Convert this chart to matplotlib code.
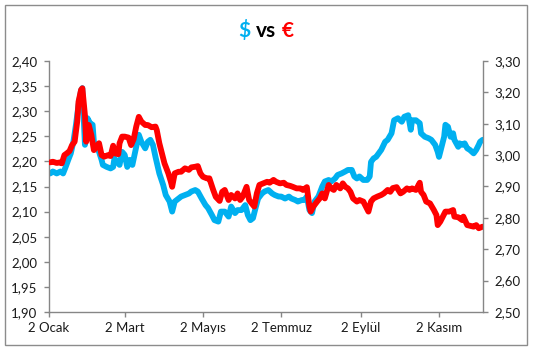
import matplotlib
matplotlib.use("Agg")
import matplotlib.pyplot as plt
import matplotlib.dates as mdates
from matplotlib.patches import Rectangle
import pandas as pd

plt.rcParams['font.family'] = ['Lato', 'DejaVu Sans']

start = pd.Timestamp('2014-01-02')

# days after 2 Jan 2014 and USD/TRY (left axis)
usd_days = [1, 3, 6, 9, 11, 13, 15, 17, 19, 21, 23, 25, 26, 28, 29, 30, 32, 34, 35, 37,
            39, 41, 42, 45, 48, 50, 51, 54, 55, 57, 59, 61, 63, 65, 68, 70, 72, 75, 77, 79,
            81, 83, 86, 89, 91, 94, 96, 98, 101, 103, 106, 109, 111, 114, 116, 119, 122, 124, 127, 129,
            132, 134, 137, 140, 142, 145, 147, 150, 153, 155, 157, 159, 161, 163, 166, 168, 171, 174, 176, 179,
            181, 184, 187, 189, 192, 194, 197, 199, 201, 203, 205, 207, 210, 213, 215, 218, 220, 223, 225, 228,
            231, 233, 236, 238, 240, 242, 245, 248, 250, 251, 253, 255, 257, 259, 262, 264, 267, 269, 272, 275,
            277, 280, 282, 283, 286, 289, 290, 293, 296, 298, 301, 303, 304, 306, 308, 309, 311, 313, 315, 316,
            319, 320, 322, 324, 326, 328, 331, 333, 335, 336, 338]
usd = [2.176, 2.180, 2.176, 2.180, 2.176, 2.189, 2.203, 2.216, 2.239, 2.273, 2.312, 2.342, 2.346, 2.233, 2.246, 2.286, 2.276, 2.273, 2.239, 2.229,
       2.219, 2.203, 2.193, 2.189, 2.186, 2.189, 2.206, 2.196, 2.193, 2.219, 2.213, 2.189, 2.203, 2.193, 2.229, 2.253, 2.239, 2.226, 2.239, 2.243,
       2.233, 2.209, 2.176, 2.153, 2.133, 2.120, 2.100, 2.120, 2.126, 2.130, 2.133, 2.136, 2.140, 2.143, 2.140, 2.126, 2.113, 2.107, 2.093, 2.083,
       2.080, 2.100, 2.100, 2.090, 2.110, 2.097, 2.103, 2.103, 2.113, 2.093, 2.083, 2.087, 2.107, 2.126, 2.136, 2.140, 2.143, 2.136, 2.133, 2.130,
       2.130, 2.126, 2.130, 2.126, 2.123, 2.120, 2.123, 2.123, 2.130, 2.103, 2.097, 2.120, 2.130, 2.150, 2.160, 2.163, 2.160, 2.166, 2.173, 2.176,
       2.180, 2.183, 2.183, 2.170, 2.166, 2.170, 2.163, 2.163, 2.170, 2.199, 2.206, 2.209, 2.216, 2.223, 2.239, 2.243, 2.256, 2.282, 2.286, 2.279,
       2.289, 2.292, 2.263, 2.282, 2.282, 2.276, 2.256, 2.249, 2.246, 2.243, 2.233, 2.219, 2.209, 2.229, 2.249, 2.273, 2.269, 2.249, 2.256, 2.243,
       2.229, 2.236, 2.233, 2.236, 2.226, 2.223, 2.216, 2.223, 2.233, 2.239, 2.243]

# days after 2 Jan 2014 and EUR/TRY (right axis)
eur_days = [1, 3, 6, 9, 10, 12, 14, 16, 18, 20, 22, 23, 25, 26, 28, 29, 30, 31, 33, 35,
            37, 39, 41, 43, 46, 48, 50, 51, 54, 55, 57, 59, 62, 64, 66, 68, 70, 72, 75, 77,
            80, 83, 84, 86, 88, 90, 93, 95, 96, 98, 101, 103, 106, 109, 111, 114, 116, 118, 120, 123,
            125, 128, 130, 133, 135, 137, 140, 142, 145, 147, 149, 151, 154, 156, 158, 160, 162, 164, 167, 170,
            172, 175, 177, 180, 183, 185, 188, 190, 193, 196, 198, 201, 203, 204, 206, 209, 211, 213, 215, 218,
            220, 222, 224, 227, 229, 231, 233, 235, 237, 240, 242, 245, 247, 249, 251, 253, 256, 259, 261, 264,
            266, 268, 271, 274, 276, 279, 281, 283, 286, 289, 290, 292, 294, 297, 300, 302, 303, 305, 307, 309,
            312, 315, 316, 319, 322, 323, 326, 329, 331, 333, 335, 338]
eur = [2.977, 2.979, 2.975, 2.977, 2.974, 3.000, 3.006, 3.013, 3.032, 3.043, 3.107, 3.170, 3.208, 3.213, 3.128, 3.043, 3.096, 3.096, 3.064, 3.016,
       3.027, 3.038, 3.000, 2.995, 3.000, 2.997, 3.030, 3.006, 3.003, 3.038, 3.059, 3.059, 3.056, 3.032, 3.051, 3.091, 3.122, 3.107, 3.096, 3.096,
       3.089, 3.091, 3.080, 3.038, 3.006, 2.974, 2.942, 2.915, 2.899, 2.942, 2.947, 2.947, 2.958, 2.953, 2.961, 2.963, 2.965, 2.942, 2.931, 2.926,
       2.926, 2.889, 2.867, 2.854, 2.883, 2.889, 2.857, 2.873, 2.862, 2.878, 2.857, 2.868, 2.899, 2.857, 2.846, 2.836, 2.878, 2.905, 2.910, 2.915,
       2.912, 2.921, 2.915, 2.910, 2.912, 2.905, 2.902, 2.899, 2.894, 2.894, 2.889, 2.898, 2.836, 2.820, 2.836, 2.852, 2.862, 2.878, 2.862, 2.905,
       2.894, 2.889, 2.905, 2.894, 2.910, 2.899, 2.894, 2.883, 2.862, 2.852, 2.857, 2.852, 2.836, 2.820, 2.852, 2.862, 2.868, 2.873, 2.878, 2.889,
       2.883, 2.895, 2.898, 2.878, 2.883, 2.894, 2.889, 2.894, 2.889, 2.912, 2.883, 2.873, 2.852, 2.846, 2.825, 2.809, 2.777, 2.788, 2.804, 2.820,
       2.820, 2.825, 2.804, 2.802, 2.793, 2.804, 2.777, 2.774, 2.772, 2.777, 2.767, 2.772]

tick_dates = ['2014-01-02', '2014-03-02', '2014-05-02', '2014-07-02', '2014-09-02', '2014-11-02']
tick_labels = ['2 Ocak', '2 Mart', '2 Mayıs', '2 Temmuz', '2 Eylül', '2 Kasım']
left_ticks = [1.90, 1.95, 2.00, 2.05, 2.10, 2.15, 2.20, 2.25, 2.30, 2.35, 2.40]
right_ticks = [2.50, 2.60, 2.70, 2.80, 2.90, 3.00, 3.10, 3.20, 3.30]

blue = '#00B0F0'
red = '#FF0000'
axis_grey = '#868686'

usd_x = start + pd.to_timedelta(usd_days, unit='D')
eur_x = start + pd.to_timedelta(eur_days, unit='D')

fig = plt.figure(figsize=(5.35, 3.52), dpi=100)
ax = fig.add_axes([49 / 535, 1 - 312 / 352, 434 / 535, 251 / 352])
ax2 = ax.twinx()

ax.plot(usd_x, usd, color=blue, lw=4.2, solid_joinstyle='round', solid_capstyle='round')
ax2.plot(eur_x, eur, color=red, lw=4.2, solid_joinstyle='round', solid_capstyle='round')

ax.set_xlim(start, start + pd.Timedelta(days=338.3))
ax.set_ylim(1.90, 2.40)
ax2.set_ylim(2.50, 3.30)

ax.set_xticks(pd.to_datetime(tick_dates))
ax.set_xticklabels(tick_labels)
ax.set_yticks(left_ticks)
ax.set_yticklabels([f'{v:.2f}'.replace('.', ',') for v in left_ticks])
ax2.set_yticks(right_ticks)
ax2.set_yticklabels([f'{v:.2f}'.replace('.', ',') for v in right_ticks])

for a in (ax, ax2):
    a.spines['top'].set_visible(False)
    for s in a.spines.values():
        s.set_color(axis_grey)
        s.set_linewidth(1)
    a.tick_params(direction='out', length=3.5, width=1, color=axis_grey,
                  labelsize=9.5, labelcolor='#1a1a1a', pad=5)
ax2.spines['left'].set_visible(False)
ax2.spines['bottom'].set_visible(False)
ax.spines['right'].set_visible(False)
ax.tick_params(axis='x', pad=4)
ax.patch.set_visible(False)

# title in three colours
ty = 1 - 31 / 352
fig.text(0.497, ty, 'vs', ha='center', va='center', fontsize=15, fontweight='bold', color='black')
fig.text(0.468, ty, '$', ha='right', va='center', fontsize=15, fontweight='bold', color=blue)
fig.text(0.526, ty, '€', ha='left', va='center', fontsize=15, fontweight='bold', color=red)

# chart border
fig.patches.append(Rectangle((5 / 535, 1 - 345 / 352), 522 / 535, 340 / 352,
                             transform=fig.transFigure, fill=False,
                             edgecolor='#8c8c8c', lw=1))

fig.savefig('out.png', dpi=100)
